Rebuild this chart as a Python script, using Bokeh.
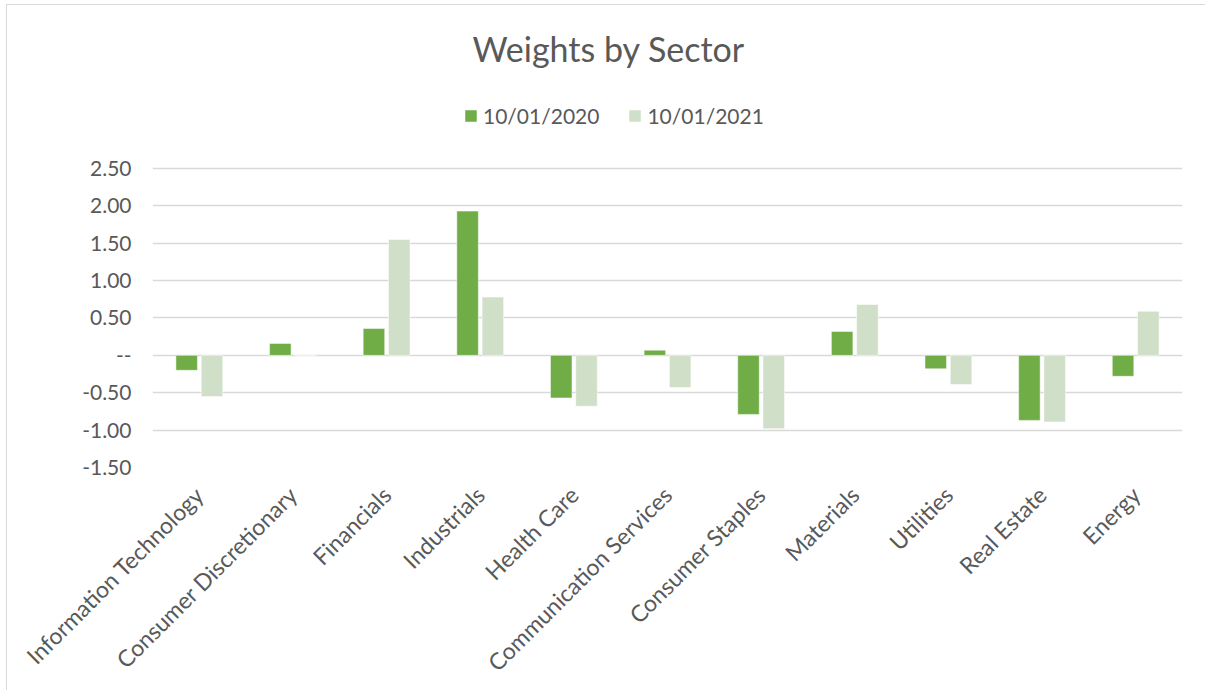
import math
from bokeh.plotting import figure
from bokeh.models import (ColumnDataSource, FactorRange, Range1d, FixedTicker,
                          CustomJSTickFormatter, Legend, LegendItem)
from bokeh.transform import dodge
from bokeh.embed import file_html
from bokeh.resources import INLINE

sectors = ["Information Technology", "Consumer Discretionary", "Financials", "Industrials",
           "Health Care", "Communication Services", "Consumer Staples", "Materials",
           "Utilities", "Real Estate", "Energy"]
w2020 = [-0.20, 0.16, 0.36, 1.93, -0.57, 0.07, -0.79, 0.32, -0.18, -0.87, -0.28]
w2021 = [-0.55, 0.0, 1.55, 0.78, -0.68, -0.43, -0.98, 0.68, -0.39, -0.89, 0.59]
series_labels = ["10/01/2020", "10/01/2021"]
y_ticks = [-1.5, -1.0, -0.5, 0.0, 0.5, 1.0, 1.5, 2.0, 2.5]

FONT = "Lato"
TXT = "#595959"
C1 = "#70AD47"
C2 = "#D0DFC7"

src = ColumnDataSource(dict(sector=sectors, a=w2020, b=w2021))

# frame extends above the 2.50 gridline to hold the legend
p = figure(width=1199, height=686, x_range=FactorRange(*sectors, range_padding=0),
           y_range=Range1d(-1.5, 3.744), output_backend="svg", toolbar_location=None,
           min_border_left=145, min_border_right=24, min_border_top=70, min_border_bottom=224)

r1 = p.vbar(x=dodge("sector", -0.135, range=p.x_range), top="a", width=0.23, source=src,
            fill_color=C1, line_color="white", line_width=0.5)
r2 = p.vbar(x=dodge("sector", 0.135, range=p.x_range), top="b", width=0.23, source=src,
            fill_color=C2, line_color="white", line_width=0.5)

p.title.text = "Weights by Sector"
p.title.align = "left"
p.title.offset = 320
p.title.standoff = 14
p.title.text_font = FONT
p.title.text_font_size = "34px"
p.title.text_font_style = "normal"
p.title.text_color = TXT

legend = Legend(items=[LegendItem(label=series_labels[0], renderers=[r1]),
                       LegendItem(label=series_labels[1], renderers=[r2])],
                orientation="horizontal", location=(311, 339),
                label_text_font=FONT, label_text_font_size="21px", label_text_color=TXT,
                glyph_width=15, glyph_height=15, spacing=28, padding=5, margin=0,
                border_line_color=None, background_fill_alpha=0)
p.add_layout(legend, "center")

p.outline_line_color = None
p.xgrid.grid_line_color = None
p.ygrid.grid_line_color = "#D9D9D9"
p.ygrid.grid_line_width = 1.5

p.yaxis.ticker = FixedTicker(ticks=y_ticks)
p.yaxis.formatter = CustomJSTickFormatter(code="return Math.abs(tick) < 1e-9 ? '--' : tick.toFixed(2);")
p.yaxis.axis_line_color = None
p.yaxis.major_tick_line_color = None
p.yaxis.minor_tick_line_color = None
p.yaxis.major_label_standoff = 15
p.yaxis.major_label_text_font = FONT
p.yaxis.major_label_text_font_size = "21px"
p.yaxis.major_label_text_color = TXT

p.xaxis.axis_line_color = None
p.xaxis.major_tick_line_color = None
p.xaxis.major_label_orientation = math.pi / 4
p.xaxis.major_label_standoff = 17
p.xaxis.major_label_text_font = FONT
p.xaxis.major_label_text_font_size = "23px"
p.xaxis.major_label_text_color = TXT

p.styles = {"margin-left": "6px", "margin-top": "4px",
            "border-left": "1px solid #D9D9D9", "border-top": "1px solid #D9D9D9"}

open("out.html", "w").write(file_html(p, INLINE))
